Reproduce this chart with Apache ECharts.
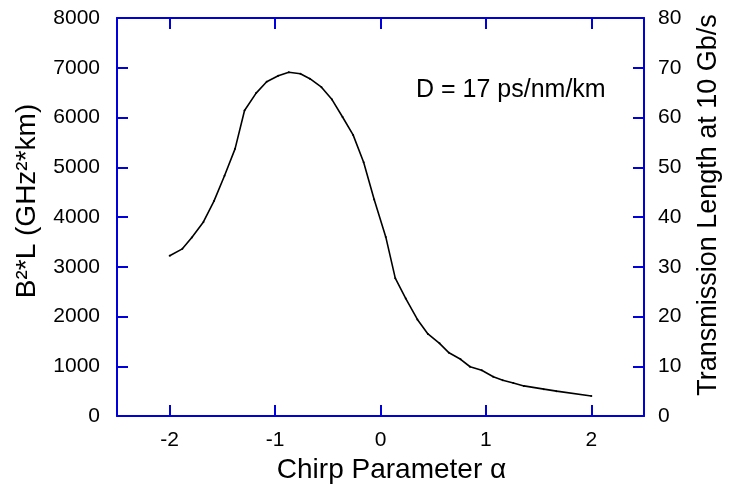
<!DOCTYPE html>
<html>
<head>
<meta charset="utf-8">
<script src="https://cdn.jsdelivr.net/npm/echarts@6/dist/echarts.min.js"></script>
<style>
html, body { margin: 0; padding: 0; background: #fff; }
#chart { width: 730px; height: 493px; }
</style>
</head>
<body>
<div id="chart"></div>
<script>
// chirp parameter alpha (x) and B^2*L values
var alpha = [-2.00, -1.88, -1.79, -1.68, -1.58, -1.48, -1.38, -1.29, -1.18, -1.08,
  -0.97, -0.87, -0.76, -0.67, -0.56, -0.46, -0.36, -0.26, -0.16, -0.06,
  0.05, 0.14, 0.24, 0.35, 0.45, 0.56, 0.65, 0.76, 0.85, 0.96,
  1.07, 1.16, 1.26, 1.36, 1.55, 1.67, 2.00]
var b2l = [3220, 3360, 3590, 3900, 4320, 4830, 5370, 6140, 6490, 6720,
  6840, 6910, 6880, 6780, 6610, 6360, 6010, 5650, 5100, 4350,
  3600, 2770, 2360, 1940, 1650, 1460, 1270, 1140, 990, 920,
  790, 720, 665, 605, 540, 500, 403]
var xTicks = [-2, -1, 0, 1, 2]
var leftTicks = [0, 1000, 2000, 3000, 4000, 5000, 6000, 7000, 8000]
var rightTicks = [0, 10, 20, 30, 40, 50, 60, 70, 80]

var axisBlue = '#0000dd'
var font = 'Liberation Sans, Arial, sans-serif'
var plain = function (v) { return String(v) }

var points = []
for (var i = 0; i < alpha.length; i++) {
  points.push([alpha[i], b2l[i]])
}

function frameAxis (pos, ticks) { // blue axis line with inward ticks
  return {
    axisLine: { show: true, onZero: false, lineStyle: { color: axisBlue, width: 2 } },
    axisTick: {
      show: true, inside: true, length: 11,
      lineStyle: { color: axisBlue, width: 2 },
      customValues: ticks
    },
    splitLine: { show: false },
    position: pos
  }
}

var chart = echarts.init(document.getElementById('chart'))
var option = {
  animation: false,
  grid: { left: 117, right: 82, top: 18, bottom: 77, containLabel: false },
  xAxis: [
    Object.assign(frameAxis('bottom', xTicks), {
      type: 'value',
      min: -2.5,
      max: 2.5,
      axisLabel: {
        color: '#000', fontFamily: font, fontSize: 21, margin: 14,
        customValues: xTicks, formatter: plain
      },
      name: 'Chirp Parameter α',
      nameLocation: 'middle',
      nameGap: 38,
      nameTextStyle: { color: '#000', fontFamily: font, fontSize: 28, padding: [0, 0, 0, 22] }
    }),
    Object.assign(frameAxis('top', xTicks), {
      type: 'value',
      min: -2.5,
      max: 2.5,
      axisLabel: { show: false }
    })
  ],
  yAxis: [
    Object.assign(frameAxis('left', leftTicks), {
      type: 'value',
      min: 0,
      max: 8000,
      interval: 1000,
      axisLabel: {
        color: '#000', fontFamily: font, fontSize: 21, margin: 17,
        customValues: leftTicks, formatter: plain
      },
      name: 'B²*L (GHz²*km)',
      nameLocation: 'middle',
      nameGap: 76,
      nameTextStyle: { color: '#000', fontFamily: font, fontSize: 28, padding: [0, 0, 0, 32] }
    }),
    Object.assign(frameAxis('right', rightTicks), {
      type: 'value',
      min: 0,
      max: 80,
      interval: 10,
      axisLabel: {
        color: '#000', fontFamily: font, fontSize: 21, margin: 14,
        customValues: rightTicks, formatter: plain
      },
      name: 'Transmission Length at 10 Gb/s',
      nameLocation: 'middle',
      nameGap: 51,
      nameRotate: 90,
      nameTextStyle: { color: '#000', fontFamily: font, fontSize: 27, padding: [0, 0, 0, 24] }
    })
  ],
  graphic: [
    {
      type: 'text',
      left: 416,
      top: 78,
      style: { text: 'D = 17 ps/nm/km', fill: '#000', font: '25px ' + font }
    }
  ],
  series: [
    {
      type: 'line',
      xAxisIndex: 0,
      yAxisIndex: 0,
      data: points,
      symbol: 'circle',
      symbolSize: 2,
      itemStyle: { color: '#000' },
      lineStyle: { color: '#000', width: 1.6 }
    }
  ]
}
chart.setOption(option)
</script>
</body>
</html>
